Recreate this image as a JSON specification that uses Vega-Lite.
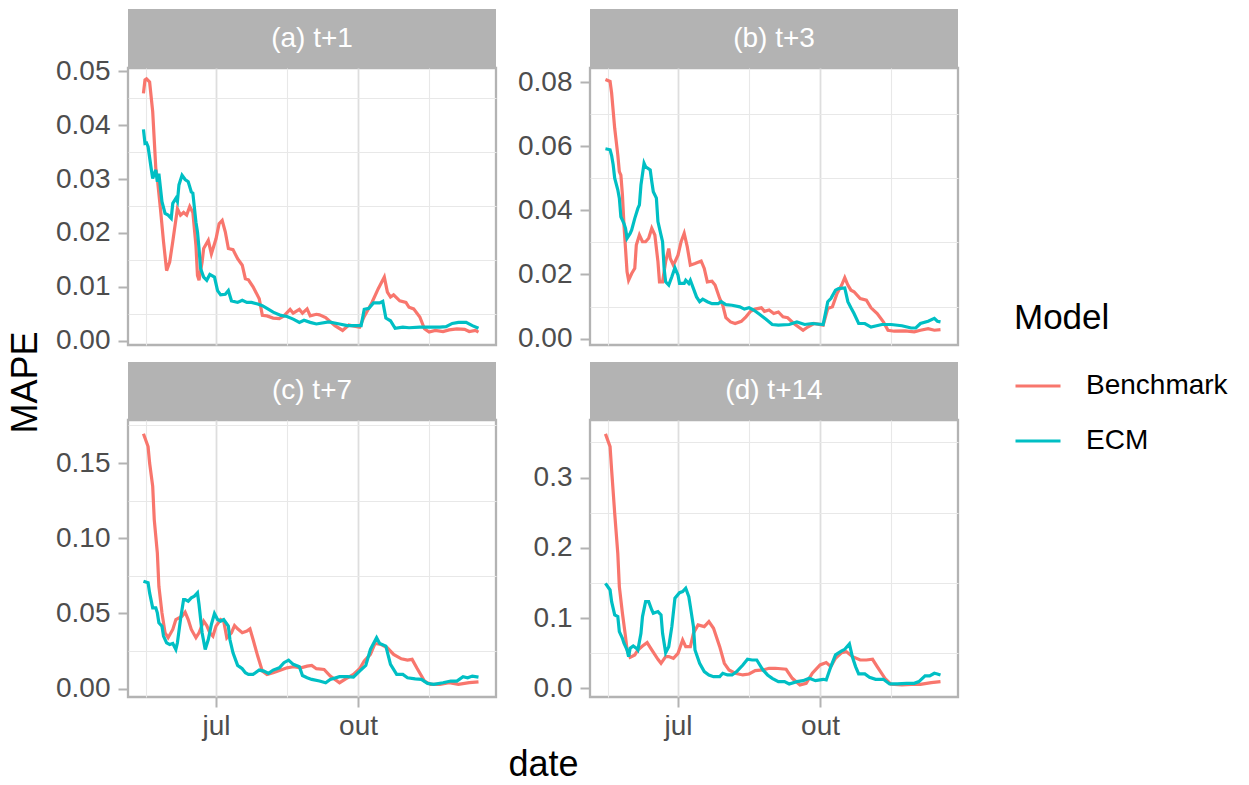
{
"$schema": "https://vega.github.io/schema/vega-lite/v6.json",
"padding": {"left": 5, "top": 9, "right": 5, "bottom": 0},
"background": "white",
"data": {"values": [
{"p":"a","m":"Benchmark","d":"2020-05-15","v":0.0459},{"p":"a","m":"Benchmark","d":"2020-05-16","v":0.0484},{"p":"a","m":"Benchmark","d":"2020-05-17","v":0.0486},{"p":"a","m":"Benchmark","d":"2020-05-19","v":0.0480},{"p":"a","m":"Benchmark","d":"2020-05-21","v":0.0425},{"p":"a","m":"Benchmark","d":"2020-05-23","v":0.032},{"p":"a","m":"Benchmark","d":"2020-05-24","v":0.0301},{"p":"a","m":"Benchmark","d":"2020-05-26","v":0.0245},{"p":"a","m":"Benchmark","d":"2020-05-28","v":0.0184},{"p":"a","m":"Benchmark","d":"2020-05-30","v":0.013},{"p":"a","m":"Benchmark","d":"2020-06-01","v":0.0146},{"p":"a","m":"Benchmark","d":"2020-06-03","v":0.0184},{"p":"a","m":"Benchmark","d":"2020-06-06","v":0.0245},{"p":"a","m":"Benchmark","d":"2020-06-08","v":0.0233},{"p":"a","m":"Benchmark","d":"2020-06-10","v":0.0238},{"p":"a","m":"Benchmark","d":"2020-06-12","v":0.0233},{"p":"a","m":"Benchmark","d":"2020-06-14","v":0.0249},{"p":"a","m":"Benchmark","d":"2020-06-16","v":0.0238},{"p":"a","m":"Benchmark","d":"2020-06-18","v":0.0177},{"p":"a","m":"Benchmark","d":"2020-06-19","v":0.0121},{"p":"a","m":"Benchmark","d":"2020-06-20","v":0.0112},{"p":"a","m":"Benchmark","d":"2020-06-22","v":0.0146},{"p":"a","m":"Benchmark","d":"2020-06-23","v":0.0171},{"p":"a","m":"Benchmark","d":"2020-06-26","v":0.0186},{"p":"a","m":"Benchmark","d":"2020-06-28","v":0.0161},{"p":"a","m":"Benchmark","d":"2020-07-01","v":0.0189},{"p":"a","m":"Benchmark","d":"2020-07-03","v":0.0217},{"p":"a","m":"Benchmark","d":"2020-07-05","v":0.0223},{"p":"a","m":"Benchmark","d":"2020-07-07","v":0.0202},{"p":"a","m":"Benchmark","d":"2020-07-09","v":0.0171},{"p":"a","m":"Benchmark","d":"2020-07-12","v":0.0169},{"p":"a","m":"Benchmark","d":"2020-07-15","v":0.0152},{"p":"a","m":"Benchmark","d":"2020-07-18","v":0.014},{"p":"a","m":"Benchmark","d":"2020-07-20","v":0.0115},{"p":"a","m":"Benchmark","d":"2020-07-22","v":0.0113},{"p":"a","m":"Benchmark","d":"2020-07-25","v":0.0100},{"p":"a","m":"Benchmark","d":"2020-07-29","v":0.0078},{"p":"a","m":"Benchmark","d":"2020-07-31","v":0.0047},{"p":"a","m":"Benchmark","d":"2020-08-03","v":0.0046},{"p":"a","m":"Benchmark","d":"2020-08-07","v":0.0042},{"p":"a","m":"Benchmark","d":"2020-08-11","v":0.0041},{"p":"a","m":"Benchmark","d":"2020-08-14","v":0.0046},{"p":"a","m":"Benchmark","d":"2020-08-18","v":0.0058},{"p":"a","m":"Benchmark","d":"2020-08-20","v":0.0051},{"p":"a","m":"Benchmark","d":"2020-08-24","v":0.0058},{"p":"a","m":"Benchmark","d":"2020-08-26","v":0.0051},{"p":"a","m":"Benchmark","d":"2020-08-29","v":0.0059},{"p":"a","m":"Benchmark","d":"2020-08-31","v":0.0046},{"p":"a","m":"Benchmark","d":"2020-09-04","v":0.0049},{"p":"a","m":"Benchmark","d":"2020-09-06","v":0.0048},{"p":"a","m":"Benchmark","d":"2020-09-10","v":0.0043},{"p":"a","m":"Benchmark","d":"2020-09-16","v":0.0028},{"p":"a","m":"Benchmark","d":"2020-09-21","v":0.0019},{"p":"a","m":"Benchmark","d":"2020-09-25","v":0.0029},{"p":"a","m":"Benchmark","d":"2020-10-02","v":0.0025},{"p":"a","m":"Benchmark","d":"2020-10-05","v":0.0045},{"p":"a","m":"Benchmark","d":"2020-10-10","v":0.0071},{"p":"a","m":"Benchmark","d":"2020-10-14","v":0.0096},{"p":"a","m":"Benchmark","d":"2020-10-18","v":0.0118},{"p":"a","m":"Benchmark","d":"2020-10-20","v":0.0090},{"p":"a","m":"Benchmark","d":"2020-10-22","v":0.0081},{"p":"a","m":"Benchmark","d":"2020-10-24","v":0.0085},{"p":"a","m":"Benchmark","d":"2020-10-28","v":0.0074},{"p":"a","m":"Benchmark","d":"2020-11-01","v":0.0071},{"p":"a","m":"Benchmark","d":"2020-11-03","v":0.0062},{"p":"a","m":"Benchmark","d":"2020-11-06","v":0.0059},{"p":"a","m":"Benchmark","d":"2020-11-10","v":0.0044},{"p":"a","m":"Benchmark","d":"2020-11-13","v":0.0022},{"p":"a","m":"Benchmark","d":"2020-11-16","v":0.0016},{"p":"a","m":"Benchmark","d":"2020-11-20","v":0.0019},{"p":"a","m":"Benchmark","d":"2020-11-25","v":0.0017},{"p":"a","m":"Benchmark","d":"2020-11-29","v":0.0020},{"p":"a","m":"Benchmark","d":"2020-12-04","v":0.0022},{"p":"a","m":"Benchmark","d":"2020-12-09","v":0.0021},{"p":"a","m":"Benchmark","d":"2020-12-12","v":0.0017},{"p":"a","m":"Benchmark","d":"2020-12-16","v":0.0019},{"p":"a","m":"Benchmark","d":"2020-12-18","v":0.0016},
{"p":"a","m":"ECM","d":"2020-05-15","v":0.0392},{"p":"a","m":"ECM","d":"2020-05-16","v":0.0366},{"p":"a","m":"ECM","d":"2020-05-17","v":0.0367},{"p":"a","m":"ECM","d":"2020-05-18","v":0.036},{"p":"a","m":"ECM","d":"2020-05-20","v":0.032},{"p":"a","m":"ECM","d":"2020-05-21","v":0.0301},{"p":"a","m":"ECM","d":"2020-05-23","v":0.0317},{"p":"a","m":"ECM","d":"2020-05-24","v":0.0295},{"p":"a","m":"ECM","d":"2020-05-25","v":0.031},{"p":"a","m":"ECM","d":"2020-05-27","v":0.0258},{"p":"a","m":"ECM","d":"2020-05-29","v":0.0236},{"p":"a","m":"ECM","d":"2020-05-31","v":0.0233},{"p":"a","m":"ECM","d":"2020-06-02","v":0.0227},{"p":"a","m":"ECM","d":"2020-06-03","v":0.0255},{"p":"a","m":"ECM","d":"2020-06-05","v":0.0264},{"p":"a","m":"ECM","d":"2020-06-06","v":0.0258},{"p":"a","m":"ECM","d":"2020-06-07","v":0.0289},{"p":"a","m":"ECM","d":"2020-06-09","v":0.0307},{"p":"a","m":"ECM","d":"2020-06-11","v":0.0299},{"p":"a","m":"ECM","d":"2020-06-13","v":0.0295},{"p":"a","m":"ECM","d":"2020-06-15","v":0.0276},{"p":"a","m":"ECM","d":"2020-06-16","v":0.0274},{"p":"a","m":"ECM","d":"2020-06-18","v":0.022},{"p":"a","m":"ECM","d":"2020-06-19","v":0.0202},{"p":"a","m":"ECM","d":"2020-06-20","v":0.0171},{"p":"a","m":"ECM","d":"2020-06-21","v":0.0134},{"p":"a","m":"ECM","d":"2020-06-23","v":0.0118},{"p":"a","m":"ECM","d":"2020-06-25","v":0.0112},{"p":"a","m":"ECM","d":"2020-06-27","v":0.0123},{"p":"a","m":"ECM","d":"2020-06-30","v":0.0118},{"p":"a","m":"ECM","d":"2020-07-02","v":0.0093},{"p":"a","m":"ECM","d":"2020-07-04","v":0.0085},{"p":"a","m":"ECM","d":"2020-07-07","v":0.0086},{"p":"a","m":"ECM","d":"2020-07-09","v":0.0093},{"p":"a","m":"ECM","d":"2020-07-11","v":0.0074},{"p":"a","m":"ECM","d":"2020-07-15","v":0.0071},{"p":"a","m":"ECM","d":"2020-07-18","v":0.0075},{"p":"a","m":"ECM","d":"2020-07-21","v":0.0071},{"p":"a","m":"ECM","d":"2020-07-24","v":0.0071},{"p":"a","m":"ECM","d":"2020-07-28","v":0.0068},{"p":"a","m":"ECM","d":"2020-07-31","v":0.0065},{"p":"a","m":"ECM","d":"2020-08-03","v":0.006},{"p":"a","m":"ECM","d":"2020-08-07","v":0.0053},{"p":"a","m":"ECM","d":"2020-08-12","v":0.0047},{"p":"a","m":"ECM","d":"2020-08-16","v":0.0045},{"p":"a","m":"ECM","d":"2020-08-20","v":0.004},{"p":"a","m":"ECM","d":"2020-08-24","v":0.0034},{"p":"a","m":"ECM","d":"2020-08-27","v":0.0038},{"p":"a","m":"ECM","d":"2020-08-31","v":0.0034},{"p":"a","m":"ECM","d":"2020-09-04","v":0.0031},{"p":"a","m":"ECM","d":"2020-09-12","v":0.0035},{"p":"a","m":"ECM","d":"2020-09-19","v":0.0031},{"p":"a","m":"ECM","d":"2020-09-24","v":0.0028},{"p":"a","m":"ECM","d":"2020-09-29","v":0.0028},{"p":"a","m":"ECM","d":"2020-10-03","v":0.0028},{"p":"a","m":"ECM","d":"2020-10-05","v":0.0058},{"p":"a","m":"ECM","d":"2020-10-08","v":0.006},{"p":"a","m":"ECM","d":"2020-10-11","v":0.007},{"p":"a","m":"ECM","d":"2020-10-15","v":0.007},{"p":"a","m":"ECM","d":"2020-10-17","v":0.0073},{"p":"a","m":"ECM","d":"2020-10-19","v":0.0042},{"p":"a","m":"ECM","d":"2020-10-22","v":0.0037},{"p":"a","m":"ECM","d":"2020-10-25","v":0.0023},{"p":"a","m":"ECM","d":"2020-10-30","v":0.0025},{"p":"a","m":"ECM","d":"2020-11-03","v":0.0024},{"p":"a","m":"ECM","d":"2020-11-10","v":0.0025},{"p":"a","m":"ECM","d":"2020-11-16","v":0.0025},{"p":"a","m":"ECM","d":"2020-11-23","v":0.0025},{"p":"a","m":"ECM","d":"2020-11-27","v":0.0026},{"p":"a","m":"ECM","d":"2020-12-01","v":0.0032},{"p":"a","m":"ECM","d":"2020-12-05","v":0.0034},{"p":"a","m":"ECM","d":"2020-12-10","v":0.0034},{"p":"a","m":"ECM","d":"2020-12-14","v":0.0028},{"p":"a","m":"ECM","d":"2020-12-18","v":0.0023},
{"p":"b","m":"Benchmark","d":"2020-05-15","v":0.0808},{"p":"b","m":"Benchmark","d":"2020-05-18","v":0.0802},{"p":"b","m":"Benchmark","d":"2020-05-19","v":0.0766},{"p":"b","m":"Benchmark","d":"2020-05-21","v":0.0656},{"p":"b","m":"Benchmark","d":"2020-05-23","v":0.0573},{"p":"b","m":"Benchmark","d":"2020-05-24","v":0.0521},{"p":"b","m":"Benchmark","d":"2020-05-25","v":0.051},{"p":"b","m":"Benchmark","d":"2020-05-26","v":0.0448},{"p":"b","m":"Benchmark","d":"2020-05-27","v":0.0354},{"p":"b","m":"Benchmark","d":"2020-05-28","v":0.0281},{"p":"b","m":"Benchmark","d":"2020-05-29","v":0.0208},{"p":"b","m":"Benchmark","d":"2020-05-30","v":0.0182},{"p":"b","m":"Benchmark","d":"2020-06-01","v":0.0203},{"p":"b","m":"Benchmark","d":"2020-06-03","v":0.0219},{"p":"b","m":"Benchmark","d":"2020-06-04","v":0.0292},{"p":"b","m":"Benchmark","d":"2020-06-06","v":0.0323},{"p":"b","m":"Benchmark","d":"2020-06-08","v":0.0302},{"p":"b","m":"Benchmark","d":"2020-06-10","v":0.0302},{"p":"b","m":"Benchmark","d":"2020-06-12","v":0.0313},{"p":"b","m":"Benchmark","d":"2020-06-14","v":0.0344},{"p":"b","m":"Benchmark","d":"2020-06-16","v":0.0323},{"p":"b","m":"Benchmark","d":"2020-06-18","v":0.024},{"p":"b","m":"Benchmark","d":"2020-06-19","v":0.0177},{"p":"b","m":"Benchmark","d":"2020-06-21","v":0.0177},{"p":"b","m":"Benchmark","d":"2020-06-23","v":0.024},{"p":"b","m":"Benchmark","d":"2020-06-25","v":0.0281},{"p":"b","m":"Benchmark","d":"2020-06-26","v":0.025},{"p":"b","m":"Benchmark","d":"2020-06-28","v":0.0229},{"p":"b","m":"Benchmark","d":"2020-07-01","v":0.026},{"p":"b","m":"Benchmark","d":"2020-07-03","v":0.0302},{"p":"b","m":"Benchmark","d":"2020-07-05","v":0.0328},{"p":"b","m":"Benchmark","d":"2020-07-07","v":0.0286},{"p":"b","m":"Benchmark","d":"2020-07-09","v":0.0229},{"p":"b","m":"Benchmark","d":"2020-07-12","v":0.0234},{"p":"b","m":"Benchmark","d":"2020-07-16","v":0.0242},{"p":"b","m":"Benchmark","d":"2020-07-18","v":0.0219},{"p":"b","m":"Benchmark","d":"2020-07-20","v":0.0177},{"p":"b","m":"Benchmark","d":"2020-07-23","v":0.0179},{"p":"b","m":"Benchmark","d":"2020-07-25","v":0.0167},{"p":"b","m":"Benchmark","d":"2020-07-28","v":0.0125},{"p":"b","m":"Benchmark","d":"2020-07-30","v":0.0104},{"p":"b","m":"Benchmark","d":"2020-08-01","v":0.0065},{"p":"b","m":"Benchmark","d":"2020-08-04","v":0.0052},{"p":"b","m":"Benchmark","d":"2020-08-07","v":0.0047},{"p":"b","m":"Benchmark","d":"2020-08-11","v":0.0054},{"p":"b","m":"Benchmark","d":"2020-08-14","v":0.0068},{"p":"b","m":"Benchmark","d":"2020-08-17","v":0.0085},{"p":"b","m":"Benchmark","d":"2020-08-20","v":0.0092},{"p":"b","m":"Benchmark","d":"2020-08-24","v":0.0096},{"p":"b","m":"Benchmark","d":"2020-08-26","v":0.0085},{"p":"b","m":"Benchmark","d":"2020-08-29","v":0.0089},{"p":"b","m":"Benchmark","d":"2020-09-01","v":0.0078},{"p":"b","m":"Benchmark","d":"2020-09-04","v":0.0083},{"p":"b","m":"Benchmark","d":"2020-09-07","v":0.0068},{"p":"b","m":"Benchmark","d":"2020-09-10","v":0.0065},{"p":"b","m":"Benchmark","d":"2020-09-14","v":0.0047},{"p":"b","m":"Benchmark","d":"2020-09-20","v":0.0026},{"p":"b","m":"Benchmark","d":"2020-09-23","v":0.0036},{"p":"b","m":"Benchmark","d":"2020-09-27","v":0.0047},{"p":"b","m":"Benchmark","d":"2020-10-03","v":0.0042},{"p":"b","m":"Benchmark","d":"2020-10-06","v":0.0094},{"p":"b","m":"Benchmark","d":"2020-10-09","v":0.0099},{"p":"b","m":"Benchmark","d":"2020-10-12","v":0.0141},{"p":"b","m":"Benchmark","d":"2020-10-15","v":0.0167},{"p":"b","m":"Benchmark","d":"2020-10-17","v":0.019},{"p":"b","m":"Benchmark","d":"2020-10-19","v":0.0167},{"p":"b","m":"Benchmark","d":"2020-10-21","v":0.0151},{"p":"b","m":"Benchmark","d":"2020-10-23","v":0.0146},{"p":"b","m":"Benchmark","d":"2020-10-27","v":0.0125},{"p":"b","m":"Benchmark","d":"2020-10-31","v":0.012},{"p":"b","m":"Benchmark","d":"2020-11-03","v":0.0096},{"p":"b","m":"Benchmark","d":"2020-11-07","v":0.0078},{"p":"b","m":"Benchmark","d":"2020-11-11","v":0.0052},{"p":"b","m":"Benchmark","d":"2020-11-14","v":0.0026},{"p":"b","m":"Benchmark","d":"2020-11-18","v":0.0023},{"p":"b","m":"Benchmark","d":"2020-11-25","v":0.0024},{"p":"b","m":"Benchmark","d":"2020-12-01","v":0.0021},{"p":"b","m":"Benchmark","d":"2020-12-05","v":0.0026},{"p":"b","m":"Benchmark","d":"2020-12-10","v":0.0031},{"p":"b","m":"Benchmark","d":"2020-12-14","v":0.0026},{"p":"b","m":"Benchmark","d":"2020-12-18","v":0.0028},
{"p":"b","m":"ECM","d":"2020-05-15","v":0.0592},{"p":"b","m":"ECM","d":"2020-05-18","v":0.0589},{"p":"b","m":"ECM","d":"2020-05-19","v":0.0571},{"p":"b","m":"ECM","d":"2020-05-20","v":0.0542},{"p":"b","m":"ECM","d":"2020-05-21","v":0.05},{"p":"b","m":"ECM","d":"2020-05-23","v":0.0464},{"p":"b","m":"ECM","d":"2020-05-24","v":0.0438},{"p":"b","m":"ECM","d":"2020-05-25","v":0.038},{"p":"b","m":"ECM","d":"2020-05-27","v":0.0359},{"p":"b","m":"ECM","d":"2020-05-28","v":0.0344},{"p":"b","m":"ECM","d":"2020-05-29","v":0.0313},{"p":"b","m":"ECM","d":"2020-05-31","v":0.0328},{"p":"b","m":"ECM","d":"2020-06-01","v":0.0339},{"p":"b","m":"ECM","d":"2020-06-03","v":0.0375},{"p":"b","m":"ECM","d":"2020-06-05","v":0.0406},{"p":"b","m":"ECM","d":"2020-06-06","v":0.0417},{"p":"b","m":"ECM","d":"2020-06-07","v":0.0479},{"p":"b","m":"ECM","d":"2020-06-09","v":0.0547},{"p":"b","m":"ECM","d":"2020-06-10","v":0.0536},{"p":"b","m":"ECM","d":"2020-06-13","v":0.0526},{"p":"b","m":"ECM","d":"2020-06-14","v":0.049},{"p":"b","m":"ECM","d":"2020-06-15","v":0.0458},{"p":"b","m":"ECM","d":"2020-06-17","v":0.0438},{"p":"b","m":"ECM","d":"2020-06-18","v":0.0365},{"p":"b","m":"ECM","d":"2020-06-20","v":0.0323},{"p":"b","m":"ECM","d":"2020-06-21","v":0.0302},{"p":"b","m":"ECM","d":"2020-06-22","v":0.0219},{"p":"b","m":"ECM","d":"2020-06-23","v":0.0177},{"p":"b","m":"ECM","d":"2020-06-25","v":0.0167},{"p":"b","m":"ECM","d":"2020-06-27","v":0.0193},{"p":"b","m":"ECM","d":"2020-06-29","v":0.0221},{"p":"b","m":"ECM","d":"2020-07-01","v":0.0198},{"p":"b","m":"ECM","d":"2020-07-02","v":0.0172},{"p":"b","m":"ECM","d":"2020-07-05","v":0.0172},{"p":"b","m":"ECM","d":"2020-07-06","v":0.0182},{"p":"b","m":"ECM","d":"2020-07-08","v":0.0172},{"p":"b","m":"ECM","d":"2020-07-09","v":0.0182},{"p":"b","m":"ECM","d":"2020-07-11","v":0.0156},{"p":"b","m":"ECM","d":"2020-07-13","v":0.013},{"p":"b","m":"ECM","d":"2020-07-15","v":0.0115},{"p":"b","m":"ECM","d":"2020-07-17","v":0.0123},{"p":"b","m":"ECM","d":"2020-07-20","v":0.0115},{"p":"b","m":"ECM","d":"2020-07-23","v":0.0109},{"p":"b","m":"ECM","d":"2020-07-27","v":0.0109},{"p":"b","m":"ECM","d":"2020-07-29","v":0.0115},{"p":"b","m":"ECM","d":"2020-08-01","v":0.0106},{"p":"b","m":"ECM","d":"2020-08-05","v":0.0104},{"p":"b","m":"ECM","d":"2020-08-10","v":0.0099},{"p":"b","m":"ECM","d":"2020-08-13","v":0.0092},{"p":"b","m":"ECM","d":"2020-08-16","v":0.0096},{"p":"b","m":"ECM","d":"2020-08-19","v":0.0089},{"p":"b","m":"ECM","d":"2020-08-23","v":0.0075},{"p":"b","m":"ECM","d":"2020-08-27","v":0.006},{"p":"b","m":"ECM","d":"2020-08-31","v":0.0044},{"p":"b","m":"ECM","d":"2020-09-04","v":0.0042},{"p":"b","m":"ECM","d":"2020-09-11","v":0.0044},{"p":"b","m":"ECM","d":"2020-09-16","v":0.0052},{"p":"b","m":"ECM","d":"2020-09-21","v":0.0044},{"p":"b","m":"ECM","d":"2020-09-26","v":0.0047},{"p":"b","m":"ECM","d":"2020-10-03","v":0.0044},{"p":"b","m":"ECM","d":"2020-10-06","v":0.0115},{"p":"b","m":"ECM","d":"2020-10-08","v":0.0125},{"p":"b","m":"ECM","d":"2020-10-11","v":0.0151},{"p":"b","m":"ECM","d":"2020-10-13","v":0.0156},{"p":"b","m":"ECM","d":"2020-10-17","v":0.0158},{"p":"b","m":"ECM","d":"2020-10-19","v":0.0115},{"p":"b","m":"ECM","d":"2020-10-21","v":0.0096},{"p":"b","m":"ECM","d":"2020-10-23","v":0.0078},{"p":"b","m":"ECM","d":"2020-10-26","v":0.0047},{"p":"b","m":"ECM","d":"2020-10-30","v":0.0047},{"p":"b","m":"ECM","d":"2020-11-03","v":0.0036},{"p":"b","m":"ECM","d":"2020-11-10","v":0.0044},{"p":"b","m":"ECM","d":"2020-11-16","v":0.0044},{"p":"b","m":"ECM","d":"2020-11-23","v":0.004},{"p":"b","m":"ECM","d":"2020-11-29","v":0.0033},{"p":"b","m":"ECM","d":"2020-12-02","v":0.0033},{"p":"b","m":"ECM","d":"2020-12-05","v":0.0047},{"p":"b","m":"ECM","d":"2020-12-10","v":0.0054},{"p":"b","m":"ECM","d":"2020-12-14","v":0.0063},{"p":"b","m":"ECM","d":"2020-12-16","v":0.0054},{"p":"b","m":"ECM","d":"2020-12-18","v":0.0052},
{"p":"c","m":"Benchmark","d":"2020-05-15","v":0.1695},{"p":"c","m":"Benchmark","d":"2020-05-18","v":0.161},{"p":"c","m":"Benchmark","d":"2020-05-19","v":0.15},{"p":"c","m":"Benchmark","d":"2020-05-21","v":0.1345},{"p":"c","m":"Benchmark","d":"2020-05-22","v":0.1124},{"p":"c","m":"Benchmark","d":"2020-05-24","v":0.0903},{"p":"c","m":"Benchmark","d":"2020-05-25","v":0.0681},{"p":"c","m":"Benchmark","d":"2020-05-27","v":0.0504},{"p":"c","m":"Benchmark","d":"2020-05-29","v":0.0372},{"p":"c","m":"Benchmark","d":"2020-05-31","v":0.0339},{"p":"c","m":"Benchmark","d":"2020-06-03","v":0.0394},{"p":"c","m":"Benchmark","d":"2020-06-05","v":0.046},{"p":"c","m":"Benchmark","d":"2020-06-07","v":0.0471},{"p":"c","m":"Benchmark","d":"2020-06-09","v":0.0482},{"p":"c","m":"Benchmark","d":"2020-06-11","v":0.0509},{"p":"c","m":"Benchmark","d":"2020-06-13","v":0.046},{"p":"c","m":"Benchmark","d":"2020-06-15","v":0.0394},{"p":"c","m":"Benchmark","d":"2020-06-18","v":0.0339},{"p":"c","m":"Benchmark","d":"2020-06-20","v":0.0372},{"p":"c","m":"Benchmark","d":"2020-06-23","v":0.0449},{"p":"c","m":"Benchmark","d":"2020-06-25","v":0.042},{"p":"c","m":"Benchmark","d":"2020-06-27","v":0.0372},{"p":"c","m":"Benchmark","d":"2020-06-29","v":0.035},{"p":"c","m":"Benchmark","d":"2020-07-01","v":0.0416},{"p":"c","m":"Benchmark","d":"2020-07-04","v":0.046},{"p":"c","m":"Benchmark","d":"2020-07-06","v":0.0449},{"p":"c","m":"Benchmark","d":"2020-07-08","v":0.0339},{"p":"c","m":"Benchmark","d":"2020-07-11","v":0.0372},{"p":"c","m":"Benchmark","d":"2020-07-13","v":0.042},{"p":"c","m":"Benchmark","d":"2020-07-15","v":0.0398},{"p":"c","m":"Benchmark","d":"2020-07-18","v":0.0372},{"p":"c","m":"Benchmark","d":"2020-07-21","v":0.0383},{"p":"c","m":"Benchmark","d":"2020-07-23","v":0.0398},{"p":"c","m":"Benchmark","d":"2020-07-25","v":0.0327},{"p":"c","m":"Benchmark","d":"2020-07-28","v":0.0217},{"p":"c","m":"Benchmark","d":"2020-07-31","v":0.0117},{"p":"c","m":"Benchmark","d":"2020-08-03","v":0.0095},{"p":"c","m":"Benchmark","d":"2020-08-07","v":0.0106},{"p":"c","m":"Benchmark","d":"2020-08-12","v":0.0124},{"p":"c","m":"Benchmark","d":"2020-08-16","v":0.0139},{"p":"c","m":"Benchmark","d":"2020-08-20","v":0.0146},{"p":"c","m":"Benchmark","d":"2020-08-25","v":0.0139},{"p":"c","m":"Benchmark","d":"2020-08-29","v":0.015},{"p":"c","m":"Benchmark","d":"2020-09-01","v":0.0155},{"p":"c","m":"Benchmark","d":"2020-09-04","v":0.0133},{"p":"c","m":"Benchmark","d":"2020-09-09","v":0.0128},{"p":"c","m":"Benchmark","d":"2020-09-13","v":0.0084},{"p":"c","m":"Benchmark","d":"2020-09-19","v":0.004},{"p":"c","m":"Benchmark","d":"2020-09-23","v":0.0066},{"p":"c","m":"Benchmark","d":"2020-09-28","v":0.0095},{"p":"c","m":"Benchmark","d":"2020-10-02","v":0.0133},{"p":"c","m":"Benchmark","d":"2020-10-05","v":0.0184},{"p":"c","m":"Benchmark","d":"2020-10-09","v":0.0228},{"p":"c","m":"Benchmark","d":"2020-10-12","v":0.0301},{"p":"c","m":"Benchmark","d":"2020-10-16","v":0.0294},{"p":"c","m":"Benchmark","d":"2020-10-20","v":0.0272},{"p":"c","m":"Benchmark","d":"2020-10-24","v":0.0228},{"p":"c","m":"Benchmark","d":"2020-10-29","v":0.0199},{"p":"c","m":"Benchmark","d":"2020-11-02","v":0.019},{"p":"c","m":"Benchmark","d":"2020-11-05","v":0.0195},{"p":"c","m":"Benchmark","d":"2020-11-08","v":0.0139},{"p":"c","m":"Benchmark","d":"2020-11-13","v":0.0051},{"p":"c","m":"Benchmark","d":"2020-11-17","v":0.0029},{"p":"c","m":"Benchmark","d":"2020-11-23","v":0.0029},{"p":"c","m":"Benchmark","d":"2020-11-29","v":0.004},{"p":"c","m":"Benchmark","d":"2020-12-05","v":0.0029},{"p":"c","m":"Benchmark","d":"2020-12-12","v":0.004},{"p":"c","m":"Benchmark","d":"2020-12-18","v":0.0046},
{"p":"c","m":"ECM","d":"2020-05-15","v":0.0715},{"p":"c","m":"ECM","d":"2020-05-18","v":0.0704},{"p":"c","m":"ECM","d":"2020-05-19","v":0.0637},{"p":"c","m":"ECM","d":"2020-05-21","v":0.0538},{"p":"c","m":"ECM","d":"2020-05-23","v":0.0538},{"p":"c","m":"ECM","d":"2020-05-24","v":0.0504},{"p":"c","m":"ECM","d":"2020-05-25","v":0.0438},{"p":"c","m":"ECM","d":"2020-05-27","v":0.0416},{"p":"c","m":"ECM","d":"2020-05-28","v":0.035},{"p":"c","m":"ECM","d":"2020-05-30","v":0.0305},{"p":"c","m":"ECM","d":"2020-06-01","v":0.0294},{"p":"c","m":"ECM","d":"2020-06-03","v":0.0301},{"p":"c","m":"ECM","d":"2020-06-05","v":0.0261},{"p":"c","m":"ECM","d":"2020-06-06","v":0.0305},{"p":"c","m":"ECM","d":"2020-06-08","v":0.046},{"p":"c","m":"ECM","d":"2020-06-10","v":0.0593},{"p":"c","m":"ECM","d":"2020-06-11","v":0.0593},{"p":"c","m":"ECM","d":"2020-06-13","v":0.0582},{"p":"c","m":"ECM","d":"2020-06-15","v":0.0604},{"p":"c","m":"ECM","d":"2020-06-17","v":0.0615},{"p":"c","m":"ECM","d":"2020-06-19","v":0.0637},{"p":"c","m":"ECM","d":"2020-06-20","v":0.056},{"p":"c","m":"ECM","d":"2020-06-22","v":0.0372},{"p":"c","m":"ECM","d":"2020-06-24","v":0.0261},{"p":"c","m":"ECM","d":"2020-06-26","v":0.0327},{"p":"c","m":"ECM","d":"2020-06-28","v":0.0427},{"p":"c","m":"ECM","d":"2020-06-30","v":0.05},{"p":"c","m":"ECM","d":"2020-07-02","v":0.046},{"p":"c","m":"ECM","d":"2020-07-04","v":0.0449},{"p":"c","m":"ECM","d":"2020-07-06","v":0.046},{"p":"c","m":"ECM","d":"2020-07-09","v":0.0416},{"p":"c","m":"ECM","d":"2020-07-10","v":0.0327},{"p":"c","m":"ECM","d":"2020-07-12","v":0.0239},{"p":"c","m":"ECM","d":"2020-07-15","v":0.0155},{"p":"c","m":"ECM","d":"2020-07-18","v":0.0133},{"p":"c","m":"ECM","d":"2020-07-20","v":0.0106},{"p":"c","m":"ECM","d":"2020-07-22","v":0.0095},{"p":"c","m":"ECM","d":"2020-07-25","v":0.0095},{"p":"c","m":"ECM","d":"2020-07-29","v":0.0124},{"p":"c","m":"ECM","d":"2020-08-01","v":0.0117},{"p":"c","m":"ECM","d":"2020-08-04","v":0.0102},{"p":"c","m":"ECM","d":"2020-08-07","v":0.0124},{"p":"c","m":"ECM","d":"2020-08-11","v":0.0139},{"p":"c","m":"ECM","d":"2020-08-14","v":0.0173},{"p":"c","m":"ECM","d":"2020-08-17","v":0.019},{"p":"c","m":"ECM","d":"2020-08-20","v":0.0162},{"p":"c","m":"ECM","d":"2020-08-24","v":0.0146},{"p":"c","m":"ECM","d":"2020-08-26","v":0.0088},{"p":"c","m":"ECM","d":"2020-08-29","v":0.0073},{"p":"c","m":"ECM","d":"2020-09-01","v":0.0062},{"p":"c","m":"ECM","d":"2020-09-06","v":0.0051},{"p":"c","m":"ECM","d":"2020-09-10","v":0.004},{"p":"c","m":"ECM","d":"2020-09-13","v":0.0062},{"p":"c","m":"ECM","d":"2020-09-19","v":0.008},{"p":"c","m":"ECM","d":"2020-09-24","v":0.008},{"p":"c","m":"ECM","d":"2020-09-28","v":0.0077},{"p":"c","m":"ECM","d":"2020-10-02","v":0.0117},{"p":"c","m":"ECM","d":"2020-10-06","v":0.0155},{"p":"c","m":"ECM","d":"2020-10-09","v":0.0261},{"p":"c","m":"ECM","d":"2020-10-13","v":0.0339},{"p":"c","m":"ECM","d":"2020-10-15","v":0.0301},{"p":"c","m":"ECM","d":"2020-10-19","v":0.0283},{"p":"c","m":"ECM","d":"2020-10-22","v":0.0162},{"p":"c","m":"ECM","d":"2020-10-26","v":0.0095},{"p":"c","m":"ECM","d":"2020-10-30","v":0.0095},{"p":"c","m":"ECM","d":"2020-11-02","v":0.0073},{"p":"c","m":"ECM","d":"2020-11-07","v":0.0066},{"p":"c","m":"ECM","d":"2020-11-11","v":0.0062},{"p":"c","m":"ECM","d":"2020-11-15","v":0.0035},{"p":"c","m":"ECM","d":"2020-11-19","v":0.0029},{"p":"c","m":"ECM","d":"2020-11-25","v":0.004},{"p":"c","m":"ECM","d":"2020-11-30","v":0.0051},{"p":"c","m":"ECM","d":"2020-12-04","v":0.0051},{"p":"c","m":"ECM","d":"2020-12-08","v":0.008},{"p":"c","m":"ECM","d":"2020-12-11","v":0.0073},{"p":"c","m":"ECM","d":"2020-12-14","v":0.0084},{"p":"c","m":"ECM","d":"2020-12-18","v":0.0077},
{"p":"d","m":"Benchmark","d":"2020-05-15","v":0.3622},{"p":"d","m":"Benchmark","d":"2020-05-18","v":0.3441},{"p":"d","m":"Benchmark","d":"2020-05-19","v":0.3109},{"p":"d","m":"Benchmark","d":"2020-05-21","v":0.2492},{"p":"d","m":"Benchmark","d":"2020-05-23","v":0.1922},{"p":"d","m":"Benchmark","d":"2020-05-24","v":0.1448},{"p":"d","m":"Benchmark","d":"2020-05-26","v":0.1068},{"p":"d","m":"Benchmark","d":"2020-05-28","v":0.0736},{"p":"d","m":"Benchmark","d":"2020-05-29","v":0.0546},{"p":"d","m":"Benchmark","d":"2020-05-31","v":0.0441},{"p":"d","m":"Benchmark","d":"2020-06-03","v":0.0475},{"p":"d","m":"Benchmark","d":"2020-06-05","v":0.0546},{"p":"d","m":"Benchmark","d":"2020-06-08","v":0.0603},{"p":"d","m":"Benchmark","d":"2020-06-11","v":0.065},{"p":"d","m":"Benchmark","d":"2020-06-14","v":0.0546},{"p":"d","m":"Benchmark","d":"2020-06-18","v":0.0413},{"p":"d","m":"Benchmark","d":"2020-06-20","v":0.0356},{"p":"d","m":"Benchmark","d":"2020-06-23","v":0.0451},{"p":"d","m":"Benchmark","d":"2020-06-25","v":0.0451},{"p":"d","m":"Benchmark","d":"2020-06-28","v":0.0427},{"p":"d","m":"Benchmark","d":"2020-07-01","v":0.0498},{"p":"d","m":"Benchmark","d":"2020-07-04","v":0.0688},{"p":"d","m":"Benchmark","d":"2020-07-06","v":0.0593},{"p":"d","m":"Benchmark","d":"2020-07-09","v":0.0593},{"p":"d","m":"Benchmark","d":"2020-07-11","v":0.0783},{"p":"d","m":"Benchmark","d":"2020-07-14","v":0.0902},{"p":"d","m":"Benchmark","d":"2020-07-18","v":0.0878},{"p":"d","m":"Benchmark","d":"2020-07-21","v":0.0949},{"p":"d","m":"Benchmark","d":"2020-07-24","v":0.0854},{"p":"d","m":"Benchmark","d":"2020-07-28","v":0.0593},{"p":"d","m":"Benchmark","d":"2020-07-31","v":0.0356},{"p":"d","m":"Benchmark","d":"2020-08-03","v":0.0261},{"p":"d","m":"Benchmark","d":"2020-08-07","v":0.0214},{"p":"d","m":"Benchmark","d":"2020-08-12","v":0.019},{"p":"d","m":"Benchmark","d":"2020-08-16","v":0.0204},{"p":"d","m":"Benchmark","d":"2020-08-20","v":0.0252},{"p":"d","m":"Benchmark","d":"2020-08-25","v":0.0261},{"p":"d","m":"Benchmark","d":"2020-08-29","v":0.0285},{"p":"d","m":"Benchmark","d":"2020-09-02","v":0.0285},{"p":"d","m":"Benchmark","d":"2020-09-09","v":0.0271},{"p":"d","m":"Benchmark","d":"2020-09-13","v":0.0142},{"p":"d","m":"Benchmark","d":"2020-09-18","v":0.0047},{"p":"d","m":"Benchmark","d":"2020-09-22","v":0.0071},{"p":"d","m":"Benchmark","d":"2020-09-26","v":0.0214},{"p":"d","m":"Benchmark","d":"2020-10-01","v":0.0332},{"p":"d","m":"Benchmark","d":"2020-10-05","v":0.0366},{"p":"d","m":"Benchmark","d":"2020-10-08","v":0.0309},{"p":"d","m":"Benchmark","d":"2020-10-11","v":0.0427},{"p":"d","m":"Benchmark","d":"2020-10-15","v":0.0508},{"p":"d","m":"Benchmark","d":"2020-10-18","v":0.0522},{"p":"d","m":"Benchmark","d":"2020-10-22","v":0.0451},{"p":"d","m":"Benchmark","d":"2020-10-27","v":0.0403},{"p":"d","m":"Benchmark","d":"2020-10-31","v":0.0403},{"p":"d","m":"Benchmark","d":"2020-11-04","v":0.0413},{"p":"d","m":"Benchmark","d":"2020-11-07","v":0.0309},{"p":"d","m":"Benchmark","d":"2020-11-12","v":0.0142},{"p":"d","m":"Benchmark","d":"2020-11-16","v":0.0057},{"p":"d","m":"Benchmark","d":"2020-11-23","v":0.0047},{"p":"d","m":"Benchmark","d":"2020-11-29","v":0.0057},{"p":"d","m":"Benchmark","d":"2020-12-05","v":0.0057},{"p":"d","m":"Benchmark","d":"2020-12-12","v":0.0081},{"p":"d","m":"Benchmark","d":"2020-12-18","v":0.0095},
{"p":"d","m":"ECM","d":"2020-05-15","v":0.1495},{"p":"d","m":"ECM","d":"2020-05-18","v":0.14},{"p":"d","m":"ECM","d":"2020-05-19","v":0.1234},{"p":"d","m":"ECM","d":"2020-05-21","v":0.1044},{"p":"d","m":"ECM","d":"2020-05-23","v":0.1021},{"p":"d","m":"ECM","d":"2020-05-24","v":0.0807},{"p":"d","m":"ECM","d":"2020-05-26","v":0.0712},{"p":"d","m":"ECM","d":"2020-05-27","v":0.0641},{"p":"d","m":"ECM","d":"2020-05-29","v":0.0546},{"p":"d","m":"ECM","d":"2020-05-30","v":0.0451},{"p":"d","m":"ECM","d":"2020-05-31","v":0.057},{"p":"d","m":"ECM","d":"2020-06-02","v":0.0603},{"p":"d","m":"ECM","d":"2020-06-04","v":0.057},{"p":"d","m":"ECM","d":"2020-06-05","v":0.0546},{"p":"d","m":"ECM","d":"2020-06-07","v":0.0783},{"p":"d","m":"ECM","d":"2020-06-08","v":0.1021},{"p":"d","m":"ECM","d":"2020-06-10","v":0.1234},{"p":"d","m":"ECM","d":"2020-06-12","v":0.1234},{"p":"d","m":"ECM","d":"2020-06-14","v":0.1115},{"p":"d","m":"ECM","d":"2020-06-15","v":0.1068},{"p":"d","m":"ECM","d":"2020-06-18","v":0.1092},{"p":"d","m":"ECM","d":"2020-06-20","v":0.1044},{"p":"d","m":"ECM","d":"2020-06-21","v":0.0783},{"p":"d","m":"ECM","d":"2020-06-23","v":0.0508},{"p":"d","m":"ECM","d":"2020-06-25","v":0.0593},{"p":"d","m":"ECM","d":"2020-06-27","v":0.0878},{"p":"d","m":"ECM","d":"2020-06-29","v":0.1282},{"p":"d","m":"ECM","d":"2020-07-02","v":0.1362},{"p":"d","m":"ECM","d":"2020-07-04","v":0.1377},{"p":"d","m":"ECM","d":"2020-07-06","v":0.1424},{"p":"d","m":"ECM","d":"2020-07-08","v":0.1305},{"p":"d","m":"ECM","d":"2020-07-09","v":0.1163},{"p":"d","m":"ECM","d":"2020-07-11","v":0.0878},{"p":"d","m":"ECM","d":"2020-07-12","v":0.0546},{"p":"d","m":"ECM","d":"2020-07-15","v":0.0356},{"p":"d","m":"ECM","d":"2020-07-18","v":0.0237},{"p":"d","m":"ECM","d":"2020-07-21","v":0.019},{"p":"d","m":"ECM","d":"2020-07-24","v":0.0166},{"p":"d","m":"ECM","d":"2020-07-28","v":0.0166},{"p":"d","m":"ECM","d":"2020-07-30","v":0.0214},{"p":"d","m":"ECM","d":"2020-08-02","v":0.019},{"p":"d","m":"ECM","d":"2020-08-05","v":0.019},{"p":"d","m":"ECM","d":"2020-08-08","v":0.0237},{"p":"d","m":"ECM","d":"2020-08-12","v":0.0332},{"p":"d","m":"ECM","d":"2020-08-15","v":0.0413},{"p":"d","m":"ECM","d":"2020-08-18","v":0.0403},{"p":"d","m":"ECM","d":"2020-08-21","v":0.0403},{"p":"d","m":"ECM","d":"2020-08-25","v":0.0261},{"p":"d","m":"ECM","d":"2020-08-28","v":0.019},{"p":"d","m":"ECM","d":"2020-08-31","v":0.0142},{"p":"d","m":"ECM","d":"2020-09-04","v":0.0095},{"p":"d","m":"ECM","d":"2020-09-08","v":0.0095},{"p":"d","m":"ECM","d":"2020-09-11","v":0.0062},{"p":"d","m":"ECM","d":"2020-09-16","v":0.0095},{"p":"d","m":"ECM","d":"2020-09-20","v":0.0109},{"p":"d","m":"ECM","d":"2020-09-24","v":0.0142},{"p":"d","m":"ECM","d":"2020-09-28","v":0.0109},{"p":"d","m":"ECM","d":"2020-10-03","v":0.0128},{"p":"d","m":"ECM","d":"2020-10-05","v":0.0119},{"p":"d","m":"ECM","d":"2020-10-08","v":0.0309},{"p":"d","m":"ECM","d":"2020-10-11","v":0.0475},{"p":"d","m":"ECM","d":"2020-10-15","v":0.0532},{"p":"d","m":"ECM","d":"2020-10-17","v":0.0555},{"p":"d","m":"ECM","d":"2020-10-20","v":0.0631},{"p":"d","m":"ECM","d":"2020-10-22","v":0.0441},{"p":"d","m":"ECM","d":"2020-10-24","v":0.0309},{"p":"d","m":"ECM","d":"2020-10-26","v":0.0204},{"p":"d","m":"ECM","d":"2020-10-30","v":0.0204},{"p":"d","m":"ECM","d":"2020-11-02","v":0.0157},{"p":"d","m":"ECM","d":"2020-11-06","v":0.0128},{"p":"d","m":"ECM","d":"2020-11-11","v":0.0128},{"p":"d","m":"ECM","d":"2020-11-15","v":0.0062},{"p":"d","m":"ECM","d":"2020-11-20","v":0.0062},{"p":"d","m":"ECM","d":"2020-11-26","v":0.0071},{"p":"d","m":"ECM","d":"2020-12-01","v":0.0071},{"p":"d","m":"ECM","d":"2020-12-04","v":0.0095},{"p":"d","m":"ECM","d":"2020-12-08","v":0.0176},{"p":"d","m":"ECM","d":"2020-12-11","v":0.0176},{"p":"d","m":"ECM","d":"2020-12-14","v":0.0214},{"p":"d","m":"ECM","d":"2020-12-16","v":0.0204},{"p":"d","m":"ECM","d":"2020-12-18","v":0.019}
]},
"columns": 2,
"spacing": {"row": 0, "column": 94},
"bounds": "flush",
"concat": [
{"width": 368, "height": 59, "data": {"values": [{"t": "(a) t+1"}]}, "mark": {"type": "text", "color": "white", "fontSize": 28}, "encoding": {"text": {"field": "t"}}, "view": {"fill": "#b3b3b3", "stroke": null}},
{"width": 368, "height": 59, "data": {"values": [{"t": "(b) t+3"}]}, "mark": {"type": "text", "color": "white", "fontSize": 28}, "encoding": {"text": {"field": "t"}}, "view": {"fill": "#b3b3b3", "stroke": null}},
{"width": 368, "height": 277, "transform": [{"filter": "datum.p === 'a'"}],
 "layer": [
  {"mark": {"type": "line", "strokeOpacity": 0},
   "encoding": {
    "x": {"field": "d", "type": "temporal", "scale": {"type": "utc", "domain": [{"year": 2020, "month": 5, "date": 5, "utc": true}, {"year": 2020, "month": 12, "date": 29, "hours": 8, "utc": true}]}, "axis": {"orient": "bottom", "values": [{"year": 2020, "month": 5, "date": 16, "hours": 12, "utc": true}, {"year": 2020, "month": 8, "date": 16, "utc": true}, {"year": 2020, "month": 11, "date": 16, "utc": true}], "grid": true, "gridColor": "#e8e8e8", "gridWidth": 1.1, "labels": false, "ticks": false, "domain": false, "title": null}},
    "y": {"field": "v", "type": "quantitative", "scale": {"domain": [-0.0008, 0.0506], "nice": false, "zero": false}, "axis": {"orient": "left", "values": [0.005, 0.015, 0.025, 0.035, 0.045], "grid": true, "gridColor": "#e8e8e8", "gridWidth": 1.1, "labels": false, "ticks": false, "domain": false, "title": null}}
   }},
  {"mark": {"type": "line", "strokeWidth": 3.2},
   "encoding": {
    "x": {"field": "d", "type": "temporal", "axis": {"orient": "bottom", "values": [{"year": 2020, "month": 7, "date": 1, "utc": true}, {"year": 2020, "month": 10, "date": 1, "utc": true}], "grid": true, "labels": false, "ticks": false, "domain": false, "title": null}},
    "y": {"field": "v", "type": "quantitative", "axis": {"orient": "left", "values": [0, 0.01, 0.02, 0.03, 0.04, 0.05], "format": ".2f", "title": null}},
    "color": {"field": "m", "type": "nominal", "scale": {"domain": ["Benchmark", "ECM"], "range": ["#F8766D", "#00BFC4"]}, "legend": {"title": "Model", "orient": "none", "legendX": 886, "legendY": 292}}
   }}
 ],
 "resolve": {"axis": {"x": "independent", "y": "independent"}}
},
{"width": 368, "height": 277, "transform": [{"filter": "datum.p === 'b'"}],
 "layer": [
  {"mark": {"type": "line", "strokeOpacity": 0},
   "encoding": {
    "x": {"field": "d", "type": "temporal", "scale": {"type": "utc", "domain": [{"year": 2020, "month": 5, "date": 5, "utc": true}, {"year": 2020, "month": 12, "date": 29, "hours": 8, "utc": true}]}, "axis": {"orient": "bottom", "values": [{"year": 2020, "month": 5, "date": 16, "hours": 12, "utc": true}, {"year": 2020, "month": 8, "date": 16, "utc": true}, {"year": 2020, "month": 11, "date": 16, "utc": true}], "grid": true, "gridColor": "#e8e8e8", "gridWidth": 1.1, "labels": false, "ticks": false, "domain": false, "title": null}},
    "y": {"field": "v", "type": "quantitative", "scale": {"domain": [-0.002, 0.0844], "nice": false, "zero": false}, "axis": {"orient": "left", "values": [0.01, 0.03, 0.05, 0.07], "grid": true, "gridColor": "#e8e8e8", "gridWidth": 1.1, "labels": false, "ticks": false, "domain": false, "title": null}}
   }},
  {"mark": {"type": "line", "strokeWidth": 3.2},
   "encoding": {
    "x": {"field": "d", "type": "temporal", "axis": {"orient": "bottom", "values": [{"year": 2020, "month": 7, "date": 1, "utc": true}, {"year": 2020, "month": 10, "date": 1, "utc": true}], "grid": true, "labels": false, "ticks": false, "domain": false, "title": null}},
    "y": {"field": "v", "type": "quantitative", "axis": {"orient": "left", "values": [0, 0.02, 0.04, 0.06, 0.08], "format": ".2f", "title": null}},
    "color": {"field": "m", "type": "nominal", "scale": {"domain": ["Benchmark", "ECM"], "range": ["#F8766D", "#00BFC4"]}, "legend": {"title": "Model", "orient": "none", "legendX": 886, "legendY": 292}}
   }}
 ],
 "resolve": {"axis": {"x": "independent", "y": "independent"}}
},
{"width": 368, "height": 17, "data": {"values": [{"t": ""}]}, "mark": {"type": "text"}, "encoding": {"text": {"field": "t"}}, "view": {"stroke": null}},
{"width": 368, "height": 17, "data": {"values": [{"t": ""}]}, "mark": {"type": "text"}, "encoding": {"text": {"field": "t"}}, "view": {"stroke": null}},
{"width": 368, "height": 58, "data": {"values": [{"t": "(c) t+7"}]}, "mark": {"type": "text", "color": "white", "fontSize": 28}, "encoding": {"text": {"field": "t"}}, "view": {"fill": "#b3b3b3", "stroke": null}},
{"width": 368, "height": 58, "data": {"values": [{"t": "(d) t+14"}]}, "mark": {"type": "text", "color": "white", "fontSize": 28}, "encoding": {"text": {"field": "t"}}, "view": {"fill": "#b3b3b3", "stroke": null}},
{"width": 368, "height": 277, "transform": [{"filter": "datum.p === 'c'"}],
 "layer": [
  {"mark": {"type": "line", "strokeOpacity": 0},
   "encoding": {
    "x": {"field": "d", "type": "temporal", "scale": {"type": "utc", "domain": [{"year": 2020, "month": 5, "date": 5, "utc": true}, {"year": 2020, "month": 12, "date": 29, "hours": 8, "utc": true}]}, "axis": {"orient": "bottom", "values": [{"year": 2020, "month": 5, "date": 16, "hours": 12, "utc": true}, {"year": 2020, "month": 8, "date": 16, "utc": true}, {"year": 2020, "month": 11, "date": 16, "utc": true}], "grid": true, "gridColor": "#e8e8e8", "gridWidth": 1.1, "labels": false, "ticks": false, "domain": false, "title": null}},
    "y": {"field": "v", "type": "quantitative", "scale": {"domain": [-0.0055, 0.1786], "nice": false, "zero": false}, "axis": {"orient": "left", "values": [0.025, 0.075, 0.125, 0.175], "grid": true, "gridColor": "#e8e8e8", "gridWidth": 1.1, "labels": false, "ticks": false, "domain": false, "title": null}}
   }},
  {"mark": {"type": "line", "strokeWidth": 3.2},
   "encoding": {
    "x": {"field": "d", "type": "temporal", "axis": {"orient": "bottom", "values": [{"year": 2020, "month": 7, "date": 1, "utc": true}, {"year": 2020, "month": 10, "date": 1, "utc": true}], "grid": true, "labelPadding": 5, "labelExpr": "utcmonth(datum.value) == 6 ? 'jul' : 'out'", "title": "date", "titleX": 415, "titleY": 67, "titleAlign": "center", "titleBaseline": "middle", "titleAngle": 0}},
    "y": {"field": "v", "type": "quantitative", "axis": {"orient": "left", "values": [0, 0.05, 0.1, 0.15], "format": ".2f", "title": "MAPE", "titleAngle": 270, "titleX": -103, "titleY": -38, "titleAlign": "center", "titleBaseline": "middle"}},
    "color": {"field": "m", "type": "nominal", "scale": {"domain": ["Benchmark", "ECM"], "range": ["#F8766D", "#00BFC4"]}, "legend": {"title": "Model", "orient": "none", "legendX": 886, "legendY": 292}}
   }}
 ],
 "resolve": {"axis": {"x": "independent", "y": "independent"}}
},
{"width": 368, "height": 277, "transform": [{"filter": "datum.p === 'd'"}],
 "layer": [
  {"mark": {"type": "line", "strokeOpacity": 0},
   "encoding": {
    "x": {"field": "d", "type": "temporal", "scale": {"type": "utc", "domain": [{"year": 2020, "month": 5, "date": 5, "utc": true}, {"year": 2020, "month": 12, "date": 29, "hours": 8, "utc": true}]}, "axis": {"orient": "bottom", "values": [{"year": 2020, "month": 5, "date": 16, "hours": 12, "utc": true}, {"year": 2020, "month": 8, "date": 16, "utc": true}, {"year": 2020, "month": 11, "date": 16, "utc": true}], "grid": true, "gridColor": "#e8e8e8", "gridWidth": 1.1, "labels": false, "ticks": false, "domain": false, "title": null}},
    "y": {"field": "v", "type": "quantitative", "scale": {"domain": [-0.0124, 0.382], "nice": false, "zero": false}, "axis": {"orient": "left", "values": [0.05, 0.15, 0.25, 0.35], "grid": true, "gridColor": "#e8e8e8", "gridWidth": 1.1, "labels": false, "ticks": false, "domain": false, "title": null}}
   }},
  {"mark": {"type": "line", "strokeWidth": 3.2},
   "encoding": {
    "x": {"field": "d", "type": "temporal", "axis": {"orient": "bottom", "values": [{"year": 2020, "month": 7, "date": 1, "utc": true}, {"year": 2020, "month": 10, "date": 1, "utc": true}], "grid": true, "labelPadding": 5, "labelExpr": "utcmonth(datum.value) == 6 ? 'jul' : 'out'", "title": null}},
    "y": {"field": "v", "type": "quantitative", "axis": {"orient": "left", "values": [0, 0.1, 0.2, 0.3], "format": ".1f", "title": null}},
    "color": {"field": "m", "type": "nominal", "scale": {"domain": ["Benchmark", "ECM"], "range": ["#F8766D", "#00BFC4"]}, "legend": {"title": "Model", "orient": "none", "legendX": 886, "legendY": 292}}
   }}
 ],
 "resolve": {"axis": {"x": "independent", "y": "independent"}}
}
],
"config": {
 "font": "Liberation Sans",
 "view": {"stroke": "#b3b3b3", "strokeWidth": 2.3},
 "axis": {"labelFont": "Liberation Sans", "labelFontSize": 28, "labelColor": "#4d4d4d", "tickColor": "#b3b3b3", "tickSize": 10, "tickWidth": 2, "labelPadding": 8, "gridColor": "#dedede", "gridWidth": 1.8, "domain": false, "titleFont": "Liberation Sans", "titleFontSize": 36, "titleFontWeight": "normal", "titleColor": "black"},
 "legend": {"titleFont": "Liberation Sans", "labelFont": "Liberation Sans", "titleFontSize": 35, "titleFontWeight": "normal", "titleColor": "black", "labelFontSize": 28, "labelColor": "black", "symbolType": "stroke", "symbolSize": 2025, "symbolStrokeWidth": 3, "titlePadding": 26, "rowPadding": 17, "labelOffset": 24, "padding": 0}
}
}
